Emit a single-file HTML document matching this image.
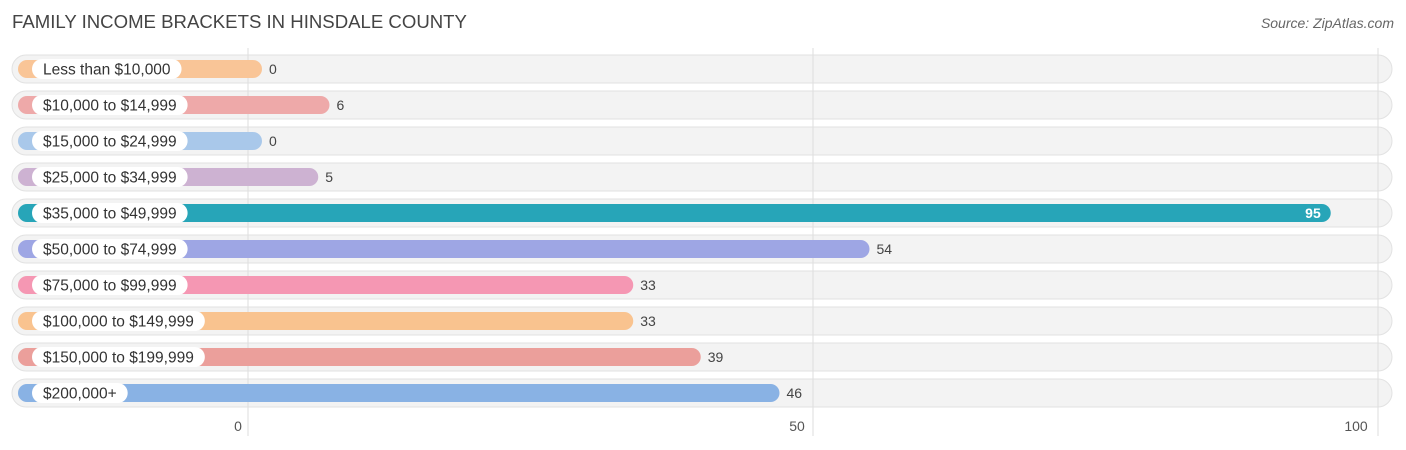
<!DOCTYPE html>
<html><head><meta charset="utf-8"><style>
body{margin:0;width:1406px;height:450px;background:#fff;font-family:"Liberation Sans",sans-serif;overflow:hidden;position:relative}
#title{position:absolute;left:12px;top:11px;font-size:18.6px;color:#444}
#src{position:absolute;right:12px;top:15px;font-size:14px;color:#666;font-style:italic}
svg{position:absolute;left:0;top:0}
</style></head><body>
<div id="title">FAMILY INCOME BRACKETS IN HINSDALE COUNTY</div>
<div id="src">Source: ZipAtlas.com</div>
<svg id="chart" width="1406" height="450"></svg>
<script>
const categories=["Less than $10,000","$10,000 to $14,999","$15,000 to $24,999","$25,000 to $34,999","$35,000 to $49,999","$50,000 to $74,999","$75,000 to $99,999","$100,000 to $149,999","$150,000 to $199,999","$200,000+"];
const values=[0,6,0,5,95,54,33,33,39,46];
const colors=["#f9c597","#eea9a9","#a9c8ea","#cdb2d2","#27a5b8","#9ea6e4","#f597b3","#f9c38f","#eb9f9b","#89b2e4"];
const ticks=[0,50,100];
const NS="http://www.w3.org/2000/svg";
const svg=document.getElementById('chart');
const x=v=>248+v*11.3;
const barEnd=v=>262+v*11.25;
const rowY=i=>69+i*36;
function mk(t,a){const e=document.createElementNS(NS,t);for(const k in a)e.setAttribute(k,a[k]);svg.appendChild(e);return e;}
categories.forEach((c,i)=>{
 const y=rowY(i),v=values[i];
 const bg=mk('rect',{x:12,y:y-14,width:1380,height:28,rx:14,fill:'#f3f3f3',stroke:'#e2e2e2'});
 
 
});
ticks.forEach(t=>{
 const g=mk('line',{x1:x(t),x2:x(t),y1:48,y2:436,stroke:'#ddd','stroke-width':1});
 
 
 const l=mk('text',{x:x(t)-10-t*0.12,y:431,'text-anchor':'middle','font-size':14,fill:'#555'});
 l.textContent=t;
 
 
});
categories.forEach((c,i)=>{
 const y=rowY(i),v=values[i];
 const b=mk('rect',{x:18,y:y-9,width:barEnd(v)-18,height:18,rx:9,fill:colors[i]});
 
 
 const p=mk('rect',{x:32,y:y-10,width:150,height:20,rx:10,fill:'#fff'});
 
 
 const t=mk('text',{x:43,y:y+5.5,'font-size':15.5,fill:'#333'});
 t.textContent=c;
 
 
 p.setAttribute('width',t.getComputedTextLength()+22);
 const inside=v>80;
 const vl=mk('text',{x:inside?barEnd(v)-10:barEnd(v)+7,y:y+5,'font-size':14,fill:inside?'#fff':'#444','text-anchor':inside?'end':'start','font-weight':inside?'bold':'normal'});
 vl.textContent=v;
 
 
});
</script>
</body></html>
